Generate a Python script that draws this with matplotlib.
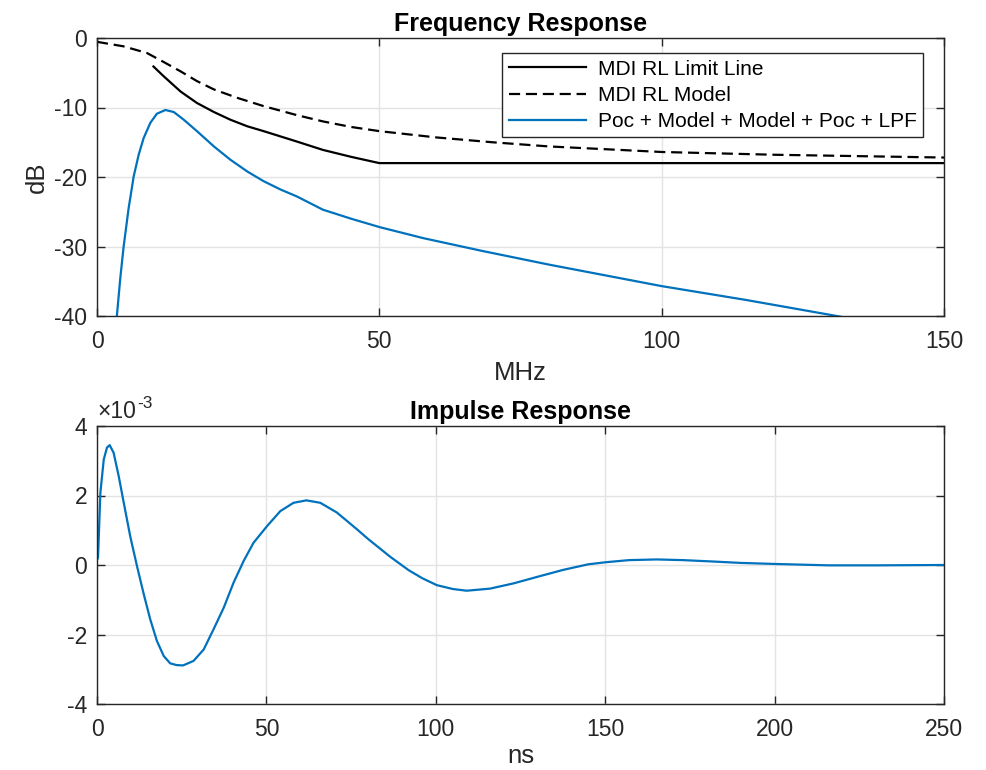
import numpy as np
import matplotlib
matplotlib.use("Agg")
import matplotlib.pyplot as plt
from matplotlib.ticker import FuncFormatter

plt.rcParams['font.family'] = ['Liberation Sans', 'DejaVu Sans']
plt.rcParams['axes.unicode_minus'] = False

# ---------------- data ----------------
# MDI RL Limit Line (MHz, dB)
limit_f = [10.0, 11.8, 14.8, 17.7, 20.7, 23.6, 26.6, 29.5, 35.4, 40, 45, 50, 150]
limit_db = [-4.1, -5.5, -7.7, -9.35, -10.65, -11.75, -12.7, -13.4, -14.9,
            -16.1, -17.1, -18.0, -18.0]

# MDI RL Model (MHz, dB)
model_f = [0, 4.7, 8.85, 11.8, 14.8, 17.7, 20.7, 24.8, 29.5, 35.4, 40, 45, 50,
           60, 70, 80, 100, 120, 150]
model_db = [-0.55, -1.2, -2.16, -3.45, -4.8, -6.2, -7.4, -8.6, -9.8, -11.1, -12.0,
            -12.8, -13.4, -14.3, -15.0, -15.6, -16.4, -16.8, -17.2]

# Poc + Model + Model + Poc + LPF (MHz, dB)
poc_f = [3.3, 3.54, 4.13, 4.72, 5.6, 6.5, 7.38, 8.26, 9.45, 10.6, 12.1, 13.6,
         15.35, 17.7, 20.7, 23.6, 26.6, 29.5, 32.5, 35.4, 40, 45, 50, 57.8, 68, 80,
         100, 115, 131, 133]
poc_db = [-42, -39.8, -34.5, -30.0, -24.5, -19.9, -16.8, -14.4, -12.2, -10.9,
          -10.36, -10.65, -11.75, -13.4, -15.6, -17.5, -19.2, -20.6, -21.8, -22.8,
          -24.7, -26.0, -27.2, -28.8, -30.6, -32.6, -35.7, -37.7, -40.0, -40.3]

# Impulse response (ns, x1e-3)
imp_t = [0, 0.3, 1.0, 2.0, 2.95, 3.74, 4.9, 6.4, 7.9, 9.8, 11.8, 13.8, 15.7, 17.7,
         19.7, 21.6, 23.5, 25.4, 28.5, 31.5, 34.4, 37.4, 40.3, 43.3, 46.2, 50.2, 54.1,
         58.0, 61.8, 65.9, 70.8, 76.7, 80, 86.5, 92, 96, 100.3, 105, 109.1, 116,
         122.9, 130, 137.6, 145, 150.2, 157, 165.2, 173, 181.9, 190, 200.1, 216,
         230, 250]
imp_v = [0.15, 0.21, 2.08, 3.04, 3.38, 3.45, 3.23, 2.56, 1.79, 0.83, -0.03, -0.84,
         -1.56, -2.19, -2.62, -2.83, -2.88, -2.89, -2.76, -2.43, -1.85, -1.23, -0.51,
         0.12, 0.64, 1.12, 1.55, 1.79, 1.86, 1.79, 1.51, 1.03, 0.75, 0.24, -0.15,
         -0.38, -0.58, -0.69, -0.74, -0.68, -0.53, -0.34, -0.14, 0.02, 0.08, 0.14,
         0.16, 0.14, 0.1, 0.06, 0.03, -0.01, -0.01, 0.0]

# ---------------- figure ----------------
W, H = 986, 770
fig = plt.figure(figsize=(W / 100, H / 100), dpi=100)
blue = '#0072BD'
axc = '#262626'
TICK = 16.5
LAB = 18.5
TIT = 18
LEG = 15


def style(ax):
    ax.tick_params(direction='in', top=True, right=True, length=6, width=1,
                   colors=axc, labelsize=TICK, labelcolor=axc)
    ax.tick_params(axis='x', pad=10)
    ax.tick_params(axis='y', pad=7)
    for s in ax.spines.values():
        s.set_color(axc)
        s.set_linewidth(1.0)
    ax.grid(True, color='#e3e3e3', linewidth=1.0)
    ax.set_axisbelow(True)


ax1 = fig.add_axes([97 / W, (H - 316) / H, 847 / W, 278 / H])
ax1.plot(limit_f, limit_db, color='black', lw=1.6, label='MDI RL Limit Line')
ax1.plot(model_f, model_db, color='black', lw=1.6, dashes=(5, 2.6), label='MDI RL Model')
ax1.plot(poc_f, poc_db, color=blue, lw=1.6, label='Poc + Model + Model + Poc + LPF')
ax1.set_xlim(0, 150)
ax1.set_ylim(-40, 0)
ax1.set_xticks([0, 50, 100, 150])
ax1.set_yticks([-40, -30, -20, -10, 0])
style(ax1)
ax1.set_xlabel('MHz', fontsize=LAB, color=axc, labelpad=6)
ax1.set_ylabel('dB', fontsize=LAB, color=axc, labelpad=4)
ax1.set_title('Frequency Response', fontsize=TIT, fontweight='bold', pad=5)
leg = ax1.legend(loc='upper right', bbox_to_anchor=(0.9756, 0.945), borderaxespad=0,
                 fontsize=LEG, handlelength=3.7, frameon=True, fancybox=False,
                 edgecolor='#262626', framealpha=1, borderpad=0.3, labelspacing=0.35,
                 handletextpad=0.6)
leg.get_frame().set_linewidth(1.0)

ax2 = fig.add_axes([97 / W, (H - 704) / H, 847 / W, 278 / H])
ax2.plot(imp_t, np.array(imp_v) * 1e-3, color=blue, lw=1.6)
ax2.set_xlim(0, 250)
ax2.set_ylim(-4e-3, 4e-3)
ax2.set_xticks([0, 50, 100, 150, 200, 250])
ax2.set_yticks([-4e-3, -2e-3, 0, 2e-3, 4e-3])
ax2.yaxis.set_major_formatter(FuncFormatter(lambda v, p: f'{v * 1e3:g}'))
style(ax2)
ax2.text(0.0, 1.012, '\u00d710', transform=ax2.transAxes, fontsize=TICK, color=axc,
         ha='left', va='bottom')
ax2.text(0.048, 1.055, '-3', transform=ax2.transAxes, fontsize=TICK * 0.75, color=axc,
         ha='left', va='bottom')
ax2.set_xlabel('ns', fontsize=LAB, color=axc, labelpad=2)
ax2.set_title('Impulse Response', fontsize=TIT, fontweight='bold', pad=5)

fig.savefig('out.png', dpi=100, facecolor='white')
